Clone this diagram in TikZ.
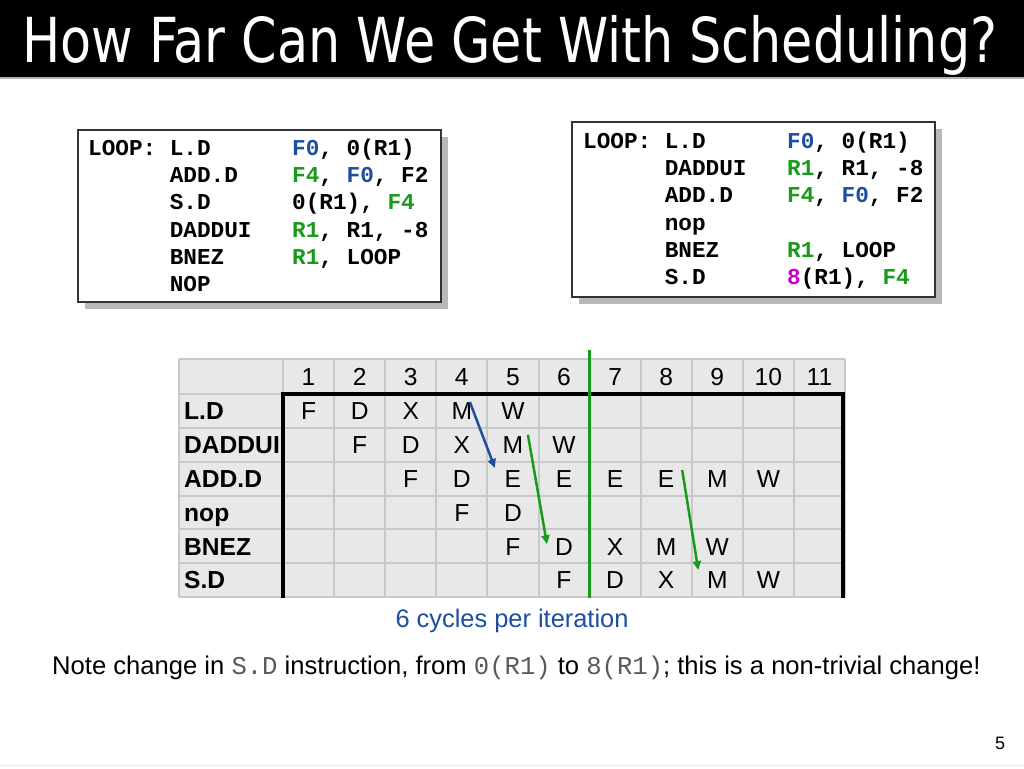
\documentclass[tikz,border=0pt]{standalone}
\usepackage{fontspec}
\setmainfont{Liberation Sans}
\newfontfamily\codefont{Liberation Mono}
\newfontfamily\titlefont{DejaVu Sans}
\usetikzlibrary{arrows.meta,calc,shadows}
\definecolor{cblue}{HTML}{1F4E9E}
\definecolor{cgreen}{HTML}{1A9A1A}
\definecolor{cmag}{HTML}{CC00CC}
\definecolor{cellfill}{HTML}{E8E8E8}
\definecolor{gridc}{HTML}{C8C8C8}
\definecolor{lblue}{HTML}{1C4DA0}
\newcommand\codeln[3]{\makebox[81.6pt][l]{#1}\makebox[122.4pt][l]{#2}#3}
\newcommand\cb[1]{\textcolor{cblue}{#1}}
\newcommand\cg[1]{\textcolor{cgreen}{#1}}
\newcommand\cm[1]{\textcolor{cmag}{#1}}
\newcommand\mono[1]{{\codefont\color{black!65}#1}}
\newcommand\rowcells[3]{%
  \foreach \t [count=\k from #2] in {#3} {%
    \node[cell] (c-#1-\k) at ({283+51.09*(\k-0.5)},{394+33.83*(#1-0.5)}) {\t};}}
\tikzset{
  codebox/.style={draw=black!80, line width=1.5pt, fill=white,
    drop shadow={shadow xshift=7pt, shadow yshift=-7pt, fill=black!55}},
  codeline/.style={anchor=base west, inner sep=0pt,
    font=\codefont\bfseries\fontsize{22.7}{27}\selectfont},
  cell/.style={inner sep=0pt, text height=17.6pt, text depth=0pt,
    font=\fontsize{24.6}{24.6}\selectfont},
  rowlabel/.style={anchor=west, inner sep=0pt, text height=17.6pt, text depth=0pt,
    font=\bfseries\fontsize{24.6}{24.6}\selectfont},
  dep/.style={line width=2.5pt, -{Triangle[length=9pt,width=8pt]}},
}
\begin{document}
\begin{tikzpicture}[x=1pt,y=-1pt]
\useasboundingbox (0,0) rectangle (1024,768);
% title bar
\fill[black] (0,0) rectangle (1024,77);
\draw[gray!60, line width=1.5pt] (0,78) -- (1024,78);
\node[anchor=base west, text=white, inner sep=0pt] (title) at (22,63)
  {\resizebox{975pt}{\height}{\titlefont\fontsize{62}{62}\selectfont How Far Can We Get With Scheduling?}};
% left code box
\node[codebox, minimum width=363pt, minimum height=172pt, inner sep=0pt] (boxL) at (259.5,216) {};
\node[codeline] (l1) at (88,155.5) {\codeln{LOOP:}{L.D}{\cb{F0}, 0(R1)}};
\node[codeline] (l2) at (88,182.7) {\codeln{}{ADD.D}{\cg{F4}, \cb{F0}, F2}};
\node[codeline] (l3) at (88,209.9) {\codeln{}{S.D}{0(R1), \cg{F4}}};
\node[codeline] (l4) at (88,237.1) {\codeln{}{DADDUI}{\cg{R1}, R1, -8}};
\node[codeline] (l5) at (88,264.3) {\codeln{}{BNEZ}{\cg{R1}, LOOP}};
\node[codeline] (l6) at (88,291.5) {\codeln{}{NOP}{}};
% right code box
\node[codebox, minimum width=363pt, minimum height=175pt, inner sep=0pt] (boxR) at (753.5,209.5) {};
\node[codeline] (r1) at (583,148.5) {\codeln{LOOP:}{L.D}{\cb{F0}, 0(R1)}};
\node[codeline] (r2) at (583,175.7) {\codeln{}{DADDUI}{\cg{R1}, R1, -8}};
\node[codeline] (r3) at (583,202.9) {\codeln{}{ADD.D}{\cg{F4}, \cb{F0}, F2}};
\node[codeline] (r4) at (583,230.1) {\codeln{}{nop}{}};
\node[codeline] (r5) at (583,257.3) {\codeln{}{BNEZ}{\cg{R1}, LOOP}};
\node[codeline] (r6) at (583,284.5) {\codeln{}{S.D}{\cm{8}(R1), \cg{F4}}};
% table
\fill[cellfill] (179,359) rectangle (845,597);
\foreach \x in {179,283,334.1,385.2,436.3,487.4,538.5,589.5,640.6,691.7,742.8,793.9,845}
  \draw[gridc, line width=2pt] (\x,359) -- (\x,597);
\foreach \y in {359,394,427.8,461.7,495.5,529.3,563.2,597}
  \draw[gridc, line width=2pt] (179,\y) -- (845,\y);
\foreach \n in {1,...,11}
  \node[cell] (h\n) at ({283+51.09*(\n-0.5)},377) {\n};
\foreach \lab [count=\r] in {L.D,DADDUI,ADD.D,nop,BNEZ,S.D}
  \node[rowlabel] (lab\r) at (184,{394+33.83*(\r-0.5)}) {\lab};
\rowcells{1}{1}{F,D,X,M,W}
\rowcells{2}{2}{F,D,X,M,W}
\rowcells{3}{3}{F,D,E,E,E,E,M,W}
\rowcells{4}{4}{F,D}
\rowcells{5}{5}{F,D,X,M,W}
\rowcells{6}{6}{F,D,X,M,W}
\draw[black, line width=4pt] (283,598) -- (283,394) -- (843,394) -- (843,598);
% iteration boundary
\coordinate (gtop) at (589,350);
\coordinate (gbot) at (589,598);
\draw[cgreen, line width=3pt] (gtop) -- (gbot);
% dependence arrows
\draw[dep, cblue] ($(c-1-4.center)+(8,-9)$) -- ($(c-3-5.center)+(-18,-10.6)$);
\draw[dep, cgreen] ($(c-2-5.center)+(15,-10)$) -- ($(c-5-6.center)+(-17,-2)$);
\draw[dep, cgreen] ($(c-3-8.center)+(16,-8.6)$) -- ($(c-6-9.center)+(-19,-10)$);
% captions
\node[text=lblue, font=\fontsize{25.4}{25.4}\selectfont] (cyc) at (512,621) {6 cycles per iteration};
\node[anchor=west, inner sep=0pt, font=\fontsize{25.6}{25.6}\selectfont] (note) at (52,668)
  {Note change in \mono{S.D} instruction, from \mono{0(R1)} to \mono{8(R1)}; this is a non-trivial change!};
\node[font=\fontsize{18}{18}\selectfont] (pg) at (1000,743) {5};
\draw[gray!15, line width=1pt] (0,765) -- (1024,765);
\end{tikzpicture}
\end{document}
